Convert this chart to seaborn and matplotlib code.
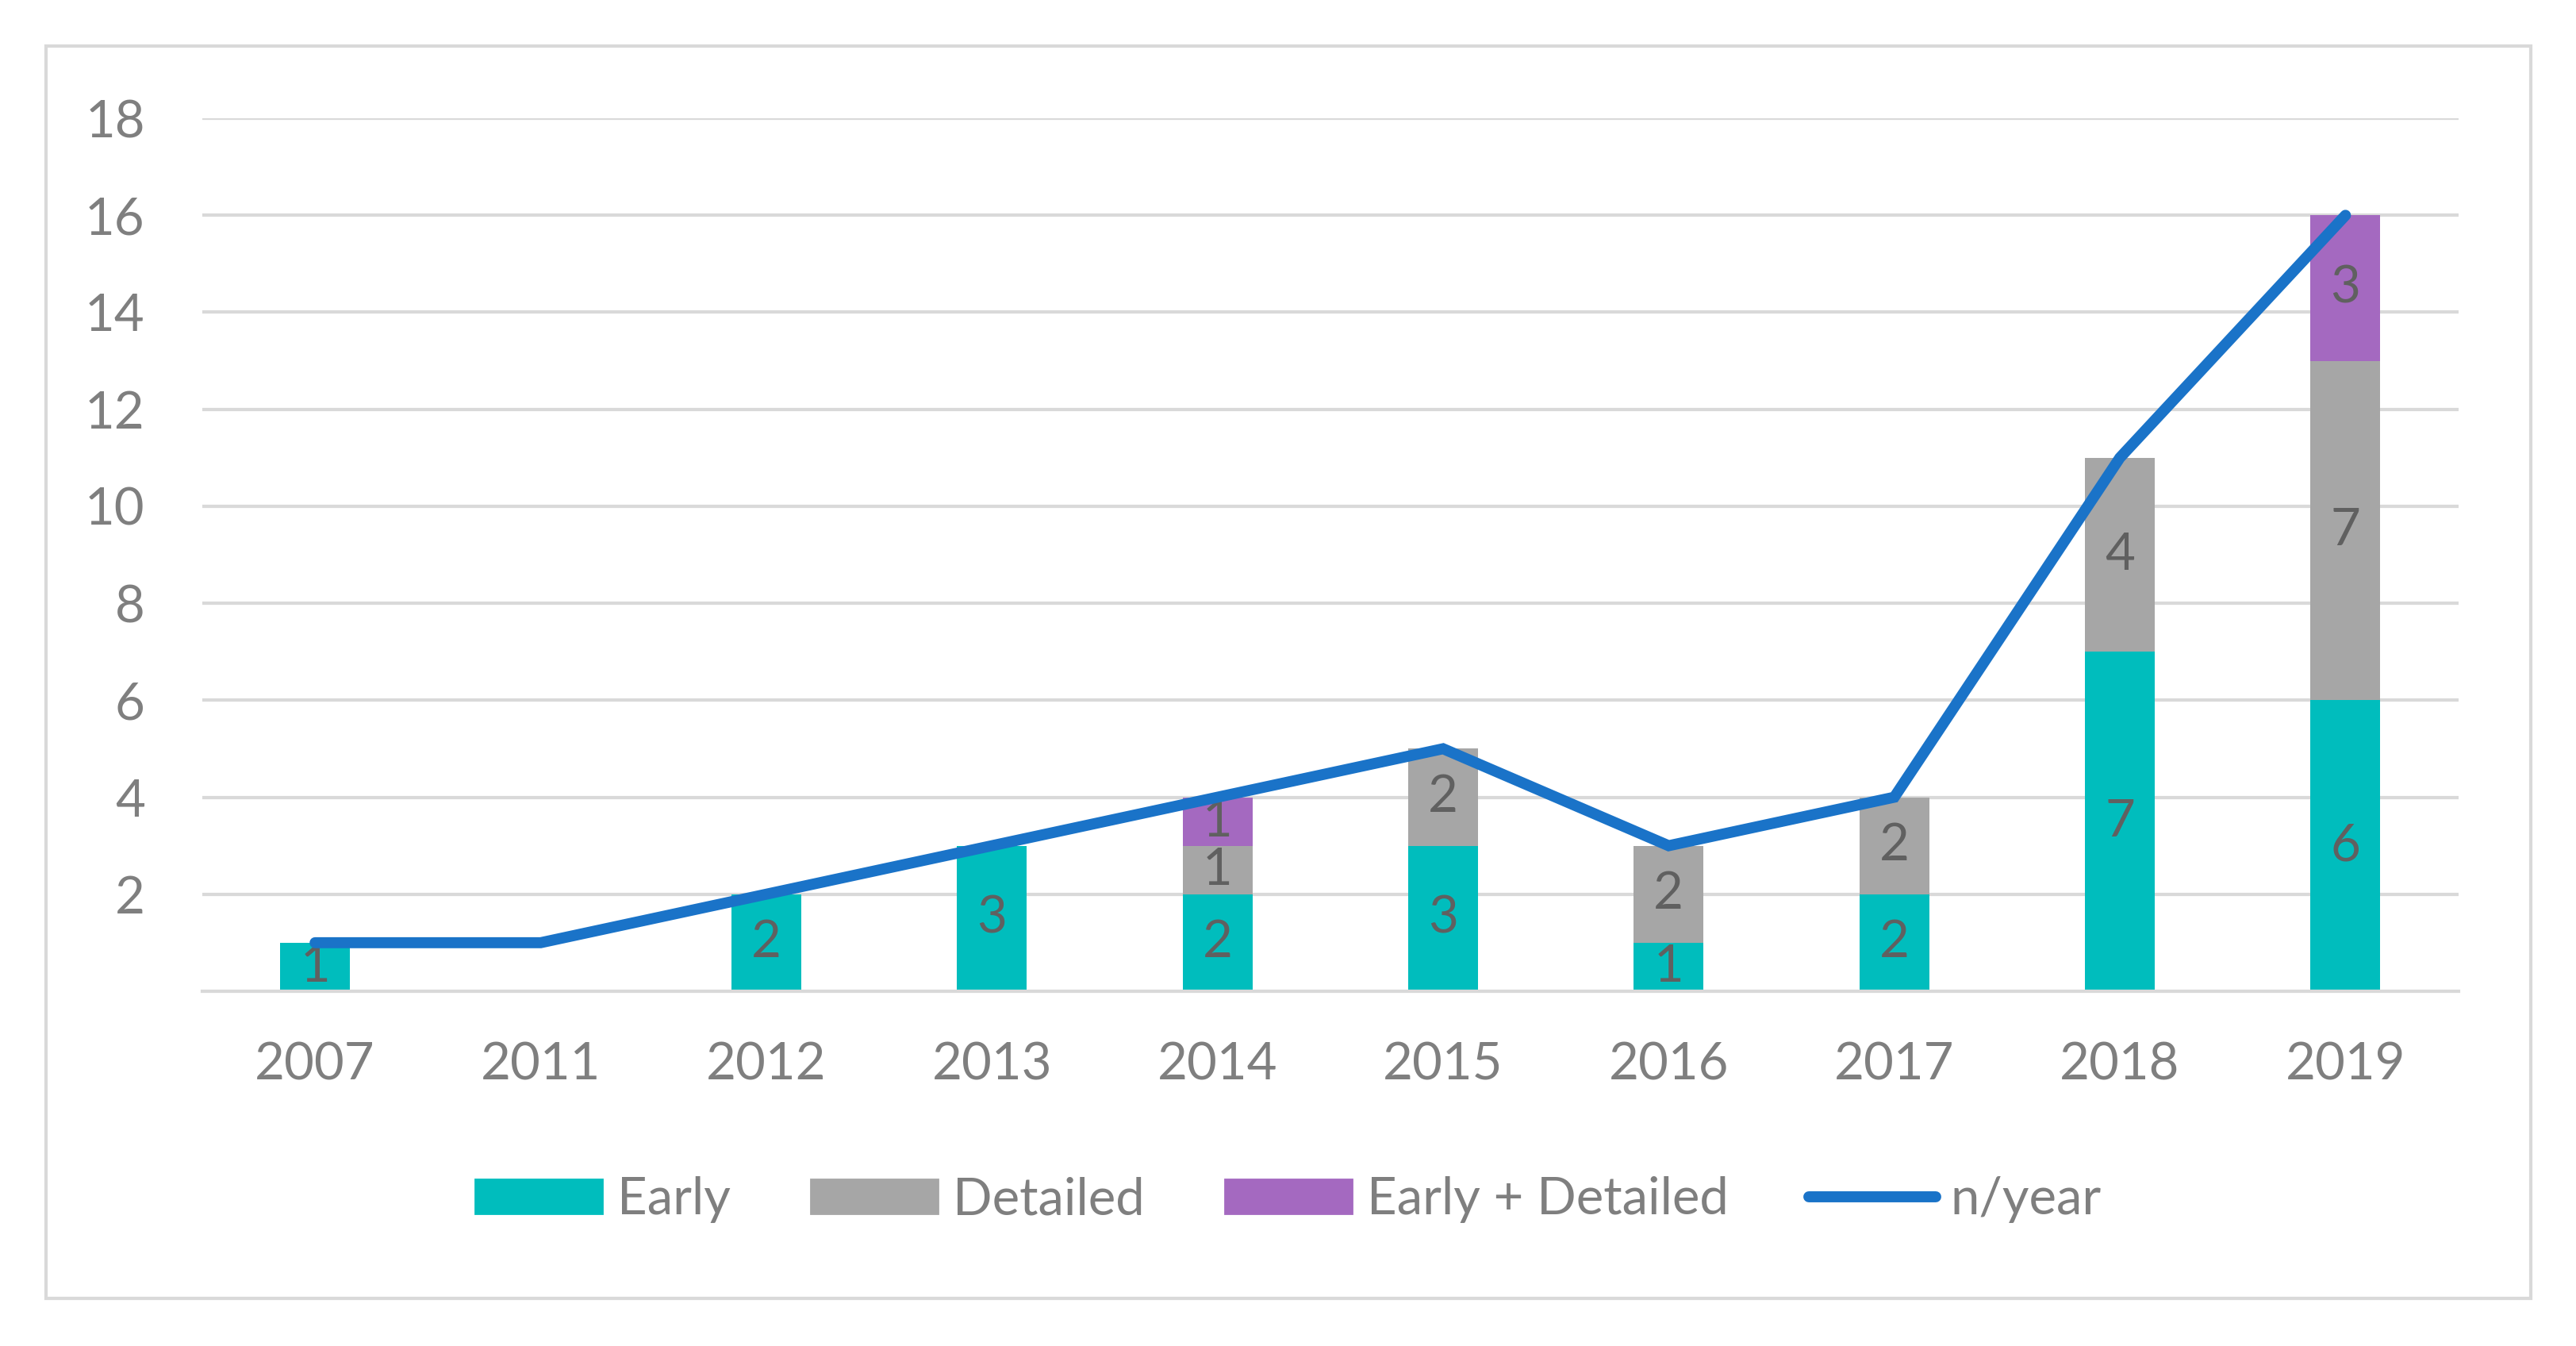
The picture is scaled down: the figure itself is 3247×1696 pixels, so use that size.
import numpy as np
import pandas as pd
import matplotlib
matplotlib.use("Agg")
import matplotlib.pyplot as plt
import seaborn as sns
from matplotlib.patches import Rectangle
from matplotlib.lines import Line2D
from matplotlib.patches import Patch

# dados
anos = ["2007", "2011", "2012", "2013", "2014", "2015", "2016", "2017", "2018", "2019"]
early = [1, 0, 2, 3, 2, 3, 1, 2, 7, 6]
detailed = [0, 0, 0, 0, 1, 2, 2, 2, 4, 7]
early_detailed = [0, 0, 0, 0, 1, 0, 0, 0, 0, 3]
n_year = [1, 1, 2, 3, 4, 5, 3, 4, 11, 16]
yticks = [2, 4, 6, 8, 10, 12, 14, 16, 18]

cor_early = "#00BDBD"
cor_detailed = "#A6A6A6"
cor_ed = "#A469C0"
cor_linha = "#1A73C8"
cor_grade = "#D9D9D9"
fs = 23.5

sns.set_style("white")
plt.rcParams["font.family"] = ["Lato", "DejaVu Sans"]

df = pd.DataFrame({"ano": anos, "early": early, "detailed": detailed,
                   "ed": early_detailed, "n": n_year})

fig = plt.figure(figsize=(16.24, 8.48), dpi=200)
ax = fig.add_axes([0.0785, 0.2636, 0.8755, 0.6485])

largura = 0.31
base1 = np.array(early)
base2 = base1 + np.array(detailed)
sns.barplot(data=df, x="ano", y="early", color=cor_early, width=largura,
            saturation=1, ax=ax, zorder=2, linewidth=0)
sns.barplot(data=df, x="ano", y="detailed", color=cor_detailed, width=largura,
            saturation=1, ax=ax, bottom=base1, zorder=2, linewidth=0)
sns.barplot(data=df, x="ano", y="ed", color=cor_ed, width=largura,
            saturation=1, ax=ax, bottom=base2, zorder=2, linewidth=0)

# rótulos das barras
for cont in ax.containers:
    rot = [f"{int(b.get_height())}" if b.get_height() > 0 else "" for b in cont]
    ax.bar_label(cont, labels=rot, label_type="center", color="#606060",
                 fontsize=fs, zorder=3)

sns.lineplot(x=np.arange(len(anos)), y=n_year, color=cor_linha, linewidth=5,
             ax=ax, zorder=5, solid_capstyle="round", solid_joinstyle="miter")

ax.set_ylim(0, 18)
ax.set_xlim(-0.5, len(anos) - 0.5)
ax.set_yticks(yticks)
ax.set_xlabel("")
ax.set_ylabel("")
ax.yaxis.grid(True, color=cor_grade, linewidth=1.5, zorder=0)
ax.set_axisbelow(True)
for lado in ["top", "right", "left"]:
    ax.spines[lado].set_visible(False)
ax.spines["bottom"].set_color(cor_grade)
ax.spines["bottom"].set_linewidth(1.5)
ax.tick_params(axis="both", length=0, labelsize=fs, labelcolor="#7F7F7F")
ax.tick_params(axis="x", pad=23)
ax.tick_params(axis="y", pad=26)

handles = [Patch(color=cor_early, label="Early"),
           Patch(color=cor_detailed, label="Detailed"),
           Patch(color=cor_ed, label="Early + Detailed"),
           Line2D([], [], color=cor_linha, linewidth=5, solid_capstyle="round",
                  label="n/year")]
fig.legend(handles=handles, loc="center", bbox_to_anchor=(0.5, 0.1085), ncol=4,
           frameon=False, fontsize=fs, labelcolor="#7F7F7F", handlelength=2.45,
           handleheight=0.63, handletextpad=0.29, columnspacing=1.55)

# moldura
fig.add_artist(Rectangle((58 / 3248, 1 - 1636 / 1696), (3190 - 58) / 3248,
                         (1636 - 58) / 1696, transform=fig.transFigure,
                         fill=False, edgecolor=cor_grade, linewidth=1.5))

fig.savefig("out.png", dpi=200, facecolor="white")
